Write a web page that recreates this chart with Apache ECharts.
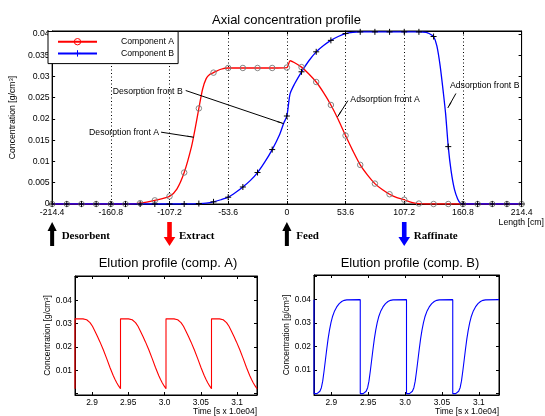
<!DOCTYPE html>
<html>
<head>
<meta charset="utf-8">
<script src="https://cdn.jsdelivr.net/npm/echarts@6/dist/echarts.min.js"></script>
<style>
  html, body { margin: 0; padding: 0; background: #fff; }
  #chart { width: 545px; height: 416px; }
</style>
</head>
<body>
<div id="chart"></div>
<script>
// positions of the markers along the column [cm]
const lengthX = [-214.4, -201, -187.6, -174.2, -160.8, -147.4, -134, -120.6, -107.2, -93.8, -80.4, -67, -53.6,
  -40.2, -26.8, -13.4, 0, 13.4, 26.8, 40.2, 53.6, 67, 80.4, 93.8, 107.2, 120.6, 134, 147.4, 160.8, 174.2, 187.6, 201, 214.4];

// axial profile, component A
const axialXA = [-214.4, -201, -187.6, -174.2, -160.8, -147.4, -134, -120.6, -107.2, -100.5, -93.8, -87.1, -83.75, -80.4,
  -77, -73.7, -70.3, -67, -60.3, -53.6, -40.2, -26.8, -13.4, 0, 2.9, 6.7, 13.4, 20.1, 26.8, 33.5, 40.2, 46.9, 53.6,
  60.3, 67, 73.7, 80.4, 87.1, 93.8, 100.5, 107.2, 113.9, 120.6, 127.3, 134, 147.4, 160.8, 174.2, 187.6, 201, 214.4];
const axialA = [0, 0, 0, 0, 0, 0, 0.0002, 0.00085, 0.0018, 0.0035, 0.0074, 0.0135, 0.0178, 0.0225,
  0.027, 0.0295, 0.0305, 0.0309, 0.0317, 0.032, 0.032, 0.032, 0.032, 0.0321, 0.0337, 0.0333, 0.0322, 0.0306, 0.0287, 0.0262, 0.0233, 0.0199, 0.0161,
  0.0125, 0.0092, 0.0068, 0.0048, 0.0034, 0.0023, 0.0015, 0.001, 0.0004, 0.0001, 0, 0, 0, 0, 0, 0, 0, 0];

// axial profile, component B
const axialXB = [-214.4, -201, -187.6, -174.2, -160.8, -147.4, -134, -120.6, -107.2, -93.8, -80.4, -73.7, -67, -60.3,
  -53.6, -46.9, -40.2, -33.5, -26.8, -20.1, -13.4, -6.7, -2.9, 0, 2.9, 6.7, 13.4, 20.1, 26.8, 33.5, 40.2, 46.9, 53.6,
  60.3, 67, 80.4, 93.8, 107.2, 120.6, 127.3, 130, 134, 137, 140, 143, 145, 147.4, 150, 153, 156, 158.5, 160.8,
  174.2, 187.6, 201, 214.4];
const axialB = [0, 0, 0, 0, 0, 0, 0, 0, 0, 0, 0.0001, 0.0002, 0.0005, 0.001,
  0.0016, 0.0027, 0.004, 0.0055, 0.0074, 0.0099, 0.0128, 0.0163, 0.019, 0.0207, 0.0259, 0.0281, 0.0311, 0.0337, 0.0358, 0.0373, 0.0385, 0.0394, 0.0401,
  0.0404, 0.0405, 0.0405, 0.0405, 0.0405, 0.0405, 0.0404, 0.0401, 0.0394, 0.0372, 0.0325, 0.026, 0.0212, 0.0135, 0.0078, 0.0035, 0.0012, 0.0002, 0,
  0, 0, 0, 0];

// elution profiles [time in 1e4 s]
const elutionTimeA = [2.8766,
  2.8766, 2.8821, 2.8876, 2.8902, 2.8927, 2.8950, 2.8973, 2.9007, 2.9041, 2.9076, 2.9110, 2.9156, 2.9203, 2.9248, 2.9294, 2.9318, 2.9341, 2.9367, 2.9393,
  2.9393, 2.9448, 2.9503, 2.9529, 2.9554, 2.9577, 2.9600, 2.9634, 2.9668, 2.9703, 2.9737, 2.9783, 2.9830, 2.9875, 2.9921, 2.9945, 2.9968, 2.9994, 3.0020,
  3.0020, 3.0075, 3.0130, 3.0156, 3.0181, 3.0204, 3.0227, 3.0261, 3.0295, 3.0330, 3.0364, 3.0410, 3.0457, 3.0502, 3.0548, 3.0572, 3.0595, 3.0621, 3.0647,
  3.0647, 3.0702, 3.0757, 3.0783, 3.0808, 3.0831, 3.0854, 3.0888, 3.0922, 3.0957, 3.0991, 3.1037, 3.1084, 3.1129, 3.1175, 3.1199, 3.1222, 3.1248, 3.1274];
const elutionA = [0.0021,
  0.0321, 0.0321, 0.0321, 0.032, 0.0317, 0.0312, 0.0305, 0.0289, 0.0268, 0.0245, 0.0222, 0.0188, 0.015, 0.0112, 0.0077, 0.0061, 0.0047, 0.0033, 0.0021,
  0.0321, 0.0321, 0.0321, 0.032, 0.0317, 0.0312, 0.0305, 0.0289, 0.0268, 0.0245, 0.0222, 0.0188, 0.015, 0.0112, 0.0077, 0.0061, 0.0047, 0.0033, 0.0021,
  0.0321, 0.0321, 0.0321, 0.032, 0.0317, 0.0312, 0.0305, 0.0289, 0.0268, 0.0245, 0.0222, 0.0188, 0.015, 0.0112, 0.0077, 0.0061, 0.0047, 0.0033, 0.0021,
  0.0321, 0.0321, 0.0321, 0.032, 0.0317, 0.0312, 0.0305, 0.0289, 0.0268, 0.0245, 0.0222, 0.0188, 0.015, 0.0112, 0.0077, 0.0061, 0.0047, 0.0033, 0.0021];

const elutionTimeB = [2.8766,
  2.8766, 2.8806, 2.8826, 2.8846, 2.8866, 2.8884, 2.8902, 2.8920, 2.8939, 2.8957, 2.8976, 2.8996, 2.9016, 2.9045, 2.9074, 2.9108, 2.9142, 2.9176, 2.9210, 2.9393,
  2.9393, 2.9433, 2.9453, 2.9473, 2.9493, 2.9511, 2.9529, 2.9547, 2.9566, 2.9584, 2.9603, 2.9623, 2.9643, 2.9672, 2.9701, 2.9735, 2.9769, 2.9803, 2.9837, 3.0020,
  3.0020, 3.0060, 3.0080, 3.0100, 3.0120, 3.0138, 3.0156, 3.0174, 3.0193, 3.0211, 3.0230, 3.0250, 3.0270, 3.0299, 3.0328, 3.0362, 3.0396, 3.0430, 3.0464, 3.0647,
  3.0647, 3.0687, 3.0707, 3.0727, 3.0747, 3.0765, 3.0783, 3.0801, 3.0820, 3.0838, 3.0857, 3.0877, 3.0897, 3.0926, 3.0955, 3.0989, 3.1023, 3.1057, 3.1091, 3.1274];
const elutionB = [0.04,
  0, 0, 0.0002, 0.001, 0.0025, 0.0053, 0.0095, 0.0141, 0.019, 0.0233, 0.027, 0.0302, 0.0327, 0.0352, 0.0369, 0.0383, 0.0392, 0.0397, 0.0399, 0.04,
  0, 0, 0.0002, 0.001, 0.0025, 0.0053, 0.0095, 0.0141, 0.019, 0.0233, 0.027, 0.0302, 0.0327, 0.0352, 0.0369, 0.0383, 0.0392, 0.0397, 0.0399, 0.04,
  0, 0, 0.0002, 0.001, 0.0025, 0.0053, 0.0095, 0.0141, 0.019, 0.0233, 0.027, 0.0302, 0.0327, 0.0352, 0.0369, 0.0383, 0.0392, 0.0397, 0.0399, 0.04,
  0, 0, 0.0002, 0.001, 0.0025, 0.0053, 0.0095, 0.0141, 0.019, 0.0233, 0.027, 0.0302, 0.0327, 0.0352, 0.0369, 0.0383, 0.0392, 0.0397, 0.0399, 0.04];

// annotations (data coords)
const annoText = ['Desorption front B', 'Desorption front A', 'Adsorption front A', 'Adsorption front B'];
const annoFrom = [[-92.4, 0.0267], [-114.9, 0.0169], [55.7, 0.0243], [154.4, 0.026]];
const annoTo = [[-2.9, 0.0189], [-85, 0.0157], [46.3, 0.0205], [147, 0.0226]];

// inlet / outlet ports
const portName = ['Desorbent', 'Extract', 'Feed', 'Raffinate'];
const portX = [-214.4, -107.2, 0, 107.2];
const portDir = ['in', 'out', 'in', 'out'];

const FONT = '"Liberation Sans", Arial, Helvetica, sans-serif';
const PLUS = 'path://M0,5L10,5M5,0L5,10';
const chart = echarts.init(document.getElementById('chart'), null, { renderer: 'canvas' });

function withMarkers(xs, ys, sym) {
  return xs.map((x, i) => ({ value: [x, ys[i]], symbol: lengthX.indexOf(x) >= 0 ? sym : 'none' }));
}
function pairs(xs, ys) {
  return xs.map((x, i) => [x, ys[i]]);
}
const concName = 'Concentration [g/cm{s|3}]';
const rich = { s: { fontSize: 6, verticalAlign: 'top', fontFamily: FONT, color: '#000' } };

function boxAxis(gridIndex, pos, extra) {
  return Object.assign({
    type: 'value', gridIndex, position: pos,
    axisLine: { show: true, onZero: false, lineStyle: { color: '#000', width: 1 } },
    axisTick: { show: true, inside: true, length: 3, lineStyle: { color: '#000' } },
    axisLabel: { show: false },
    splitLine: { show: false },
  }, extra);
}

const ylabelTop = v => {
  const r = Math.round(v / 0.005);
  if (Math.abs(v - r * 0.005) > 1e-9) return '';
  return String(+(r * 0.005).toFixed(4));
};
const ylabelBottom = v => {
  const r = Math.round(v / 0.01);
  if (Math.abs(v - r * 0.01) > 1e-9 || r < 1 || r > 4) return '';
  return String(+(r * 0.01).toFixed(2));
};
const xlabelBottom = v => {
  const r = Math.round(v / 0.05);
  if (Math.abs(v - r * 0.05) > 1e-6) return '';
  return r % 2 === 0 ? (r * 0.05).toFixed(1) : (r * 0.05).toFixed(2);
};
const small = { color: '#000', fontFamily: FONT, fontSize: 8.7 };
const small2 = { color: '#000', fontFamily: FONT, fontSize: 8.4 };

const option = {
  animation: false,
  backgroundColor: '#fff',
  title: [
    { text: 'Axial concentration profile', left: 286.5, top: 13.5, textAlign: 'center', padding: 0,
      textStyle: { fontFamily: FONT, fontSize: 13, fontWeight: 'normal', color: '#000' } },
    { text: 'Elution profile (comp. A)', left: 168, top: 257, textAlign: 'center', padding: 0,
      textStyle: { fontFamily: FONT, fontSize: 13, fontWeight: 'normal', color: '#000' } },
    { text: 'Elution profile (comp. B)', left: 410, top: 257, textAlign: 'center', padding: 0,
      textStyle: { fontFamily: FONT, fontSize: 13, fontWeight: 'normal', color: '#000' } },
  ],
  legend: {
    left: 48, top: 31.5, orient: 'vertical',
    backgroundColor: '#fff', borderColor: '#000', borderWidth: 1,
    padding: [4.5, 4, 4.5, 9],
    itemWidth: 39, itemHeight: 8, itemGap: 0.3,
    selectedMode: false,
    textStyle: { fontFamily: FONT, fontSize: 8.7, color: '#000', lineHeight: 8, padding: [0, 0, 0, 19] },
    data: [
      { name: 'Component A', itemStyle: { color: 'none', borderColor: '#ff0000', borderWidth: 1 } },
      { name: 'Component B', itemStyle: { color: 'none', borderColor: '#0000ff', borderWidth: 1 } },
    ],
  },
  grid: [
    { left: 47, right: 21, top: 31, bottom: 212, show: true, borderColor: '#000', borderWidth: 1 },
    { left: 75, right: 288, top: 276, bottom: 21, show: true, borderColor: '#000', borderWidth: 1 },
    { left: 314, right: 46, top: 275, bottom: 20, show: true, borderColor: '#000', borderWidth: 1 },
  ],
  xAxis: [
    boxAxis(0, 'bottom', {
      min: -214.4, max: 214.4, interval: 53.6,
      axisLabel: { show: true, margin: 4, ...small, formatter: v => String(Math.round(v * 10) / 10) },
      splitLine: { show: true, lineStyle: { color: '#000', type: [1, 2.5], width: 1 } },
      name: 'Length [cm]', nameLocation: 'end', nameGap: -23,
      nameTextStyle: { ...small, align: 'left', verticalAlign: 'top', padding: [14, 0, 0, 0] },
    }),
    boxAxis(0, 'top', { min: -214.4, max: 214.4, interval: 53.6 }),
    boxAxis(1, 'bottom', {
      min: 2.8766, max: 3.1274, splitNumber: 5,
      axisLabel: { show: true, margin: 4, ...small2, formatter: xlabelBottom },
      name: 'Time [s x 1.0e04]', nameLocation: 'end', nameGap: 0,
      nameTextStyle: { ...small2, align: 'right', verticalAlign: 'top', padding: [13, 0, 0, 0] },
    }),
    boxAxis(1, 'top', { min: 2.8766, max: 3.1274, splitNumber: 5 }),
    boxAxis(2, 'bottom', {
      min: 2.8766, max: 3.1274, splitNumber: 5,
      axisLabel: { show: true, margin: 4, ...small2, formatter: xlabelBottom },
      name: 'Time [s x 1.0e04]', nameLocation: 'end', nameGap: 0,
      nameTextStyle: { ...small2, align: 'right', verticalAlign: 'top', padding: [13, 0, 0, 0] },
    }),
    boxAxis(2, 'top', { min: 2.8766, max: 3.1274, splitNumber: 5 }),
  ],
  yAxis: [
    boxAxis(0, 'left', {
      min: 0, max: 0.0407, interval: 0.005,
      axisLabel: { show: true, margin: 2.5, ...small, formatter: ylabelTop },
      name: concName, nameLocation: 'middle', nameGap: 26,
      nameTextStyle: { ...small, rich },
    }),
    boxAxis(0, 'right', { min: 0, max: 0.0407, interval: 0.005 }),
    boxAxis(1, 'left', {
      min: -0.0006, max: 0.0505, splitNumber: 5,
      axisLabel: { show: true, margin: 3, ...small2, formatter: ylabelBottom },
      name: concName, nameLocation: 'middle', nameGap: 21.5,
      nameTextStyle: { ...small2, rich },
    }),
    boxAxis(1, 'right', { min: -0.0006, max: 0.0505, splitNumber: 5 }),
    boxAxis(2, 'left', {
      min: -0.0006, max: 0.0505, splitNumber: 5,
      axisLabel: { show: true, margin: 3, ...small2, formatter: ylabelBottom },
      name: concName, nameLocation: 'middle', nameGap: 22,
      nameTextStyle: { ...small2, rich },
    }),
    boxAxis(2, 'right', { min: -0.0006, max: 0.0505, splitNumber: 5 }),
  ],
  series: [
    {
      name: 'Component A', type: 'line', xAxisIndex: 0, yAxisIndex: 0,
      data: withMarkers(axialXA, axialA, 'circle'),
      symbol: 'circle', symbolSize: 5.5, showAllSymbol: true,
      smooth: 0.25,
      color: '#ff0000',
      lineStyle: { color: '#ff0000', width: 1.3 },
      itemStyle: { color: 'none', borderColor: '#777', borderWidth: 0.9 },
      emphasis: { disabled: true },
      markLine: {
        silent: true, animation: false,
        symbol: ['none', 'arrow'], symbolSize: [1, 7],
        label: { show: false },
        lineStyle: { color: '#000', width: 1, type: 'solid' },
        itemStyle: { color: '#000' },
        emphasis: { disabled: true },
        data: annoFrom.map((f, i) => [{ coord: f }, { coord: annoTo[i] }]),
      },
      z: 3,
    },
    {
      name: 'Component B', type: 'line', xAxisIndex: 0, yAxisIndex: 0,
      data: withMarkers(axialXB, axialB, PLUS),
      symbol: PLUS, symbolSize: 6, showAllSymbol: true,
      smooth: 0.25,
      color: '#0000ff',
      lineStyle: { color: '#0000ff', width: 1.3 },
      itemStyle: { color: 'none', borderColor: '#000', borderWidth: 1 },
      emphasis: { disabled: true },
      z: 3,
    },
    {
      name: 'elutionA', type: 'line', xAxisIndex: 2, yAxisIndex: 2,
      data: pairs(elutionTimeA, elutionA), showSymbol: false, symbol: 'none',
      lineStyle: { color: '#ff0000', width: 1.1 },
    },
    {
      name: 'elutionB', type: 'line', xAxisIndex: 4, yAxisIndex: 4,
      data: pairs(elutionTimeB, elutionB), showSymbol: false, symbol: 'none',
      lineStyle: { color: '#0000ff', width: 1.1 },
    },
  ],
};
chart.setOption(option);

// annotation texts and port arrows, placed through the axis scales
const annoLayout = [
  { align: 'right', dx: -3, dy: 1 },
  { align: 'right', dx: -2, dy: 0 },
  { align: 'left', dx: 2.5, dy: -1 },
  { align: 'left', dx: -6, dy: -8 },
];
const graphics = [];
annoText.forEach((t, i) => {
  const p = chart.convertToPixel({ xAxisIndex: 0, yAxisIndex: 0 }, annoFrom[i]);
  const l = annoLayout[i];
  graphics.push({
    type: 'text', x: p[0] + l.dx, y: p[1] + l.dy, silent: true,
    style: { text: t, font: '8.7px ' + FONT, fill: '#000', align: l.align, verticalAlign: 'middle' },
  });
});
const portColor = { Desorbent: '#000', Extract: '#ff0000', Feed: '#000', Raffinate: '#0000ff' };
portName.forEach((name, i) => {
  const cx = chart.convertToPixel({ xAxisIndex: 0 }, portX[i]);
  const pts = portDir[i] === 'in'
    ? [[cx, 222], [cx + 4.6, 231], [cx + 2, 231], [cx + 2, 246], [cx - 2, 246], [cx - 2, 231], [cx - 4.6, 231]]
    : [[cx - 2.3, 222], [cx + 2.3, 222], [cx + 2.3, 237], [cx + 5.8, 237], [cx, 246], [cx - 5.8, 237], [cx - 2.3, 237]];
  graphics.push({ type: 'polygon', shape: { points: pts }, silent: true, style: { fill: portColor[name] } });
  graphics.push({
    type: 'text', x: cx + 9.5, y: 236.5, silent: true,
    style: { text: name, font: 'bold 11px "Liberation Serif", "Times New Roman", serif', fill: '#000', verticalAlign: 'middle' },
  });
});
chart.setOption({ graphic: graphics });
</script>
</body>
</html>
